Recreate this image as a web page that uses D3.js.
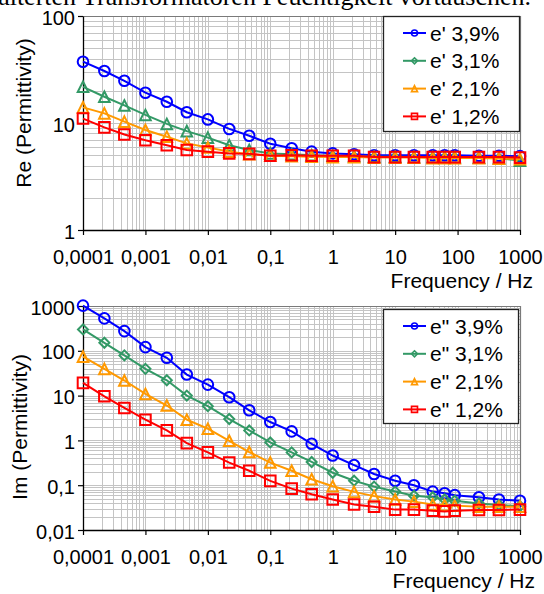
<!DOCTYPE html>
<html>
<head>
<meta charset="utf-8">
<script src="https://cdn.jsdelivr.net/npm/d3@7"></script>
<style>
  html, body { margin: 0; padding: 0; background: #fff; }
  svg { display: block; }
</style>
</head>
<body>
<svg id="chart" width="544" height="594"></svg>
<script>
// Measurement frequencies (Hz)
const frequencies = [0.0001, 0.00022, 0.00046, 0.001, 0.0022, 0.0046, 0.01, 0.022, 0.046,
  0.1, 0.22, 0.46, 1, 2.2, 4.6, 10, 20, 40, 62, 90, 220, 460, 1000];

// Real part of permittivity (e') per moisture content
const ePrime39 = [37.4, 30.6, 24.8, 19.2, 15.8, 12.6, 10.8, 8.8, 7.6, 6.4, 5.8, 5.4, 5.2, 5.1, 5.0, 5.0, 5.0, 5.0, 5.0, 5.0, 4.95, 4.95, 4.9];
const ePrime31 = [21.8, 17.6, 14.6, 11.9, 9.8, 8.4, 7.3, 6.2, 5.6, 5.2, 5.1, 5.0, 4.95, 4.9, 4.85, 4.85, 4.8, 4.8, 4.8, 4.8, 4.75, 4.7, 4.45];
const ePrime21 = [14.0, 12.3, 10.3, 8.6, 7.45, 6.45, 5.9, 5.4, 5.1, 4.95, 4.9, 4.85, 4.8, 4.8, 4.75, 4.75, 4.75, 4.7, 4.7, 4.7, 4.7, 4.65, 4.6];
const ePrime12 = [11.0, 9.1, 7.8, 6.9, 6.2, 5.6, 5.4, 5.2, 5.15, 4.95, 5.0, 4.95, 4.95, 4.95, 4.8, 4.8, 4.8, 4.8, 4.8, 4.8, 4.8, 4.8, 4.75];

// Imaginary part of permittivity (e'') per moisture content
const eDouble39 = [1020, 530, 275, 121, 70, 29.5, 17.6, 9.2, 4.7, 2.57, 1.59, 0.84, 0.46, 0.28, 0.178, 0.126, 0.1, 0.072, 0.066, 0.06, 0.054, 0.048, 0.045];
const eDouble31 = [300, 151, 79, 39.5, 22, 10, 5.8, 3.0, 1.67, 0.9, 0.54, 0.33, 0.19, 0.126, 0.093, 0.072, 0.058, 0.054, 0.048, 0.045, 0.039, 0.036, 0.034];
const eDouble21 = [74, 39.5, 21.7, 10.9, 6.0, 2.9, 1.82, 0.98, 0.55, 0.32, 0.21, 0.136, 0.095, 0.071, 0.057, 0.048, 0.043, 0.037, 0.036, 0.035, 0.033, 0.033, 0.033];
const eDouble12 = [19.2, 9.66, 5.3, 2.9, 1.67, 0.87, 0.54, 0.32, 0.21, 0.125, 0.084, 0.063, 0.048, 0.037, 0.033, 0.0285, 0.0285, 0.027, 0.026, 0.027, 0.028, 0.028, 0.0285];

// Legend labels
const reLabels = ["e' 3,9%", "e' 3,1%", "e' 2,1%", "e' 1,2%"];
const imLabels = ['e" 3,9%', 'e" 3,1%', 'e" 2,1%', 'e" 1,2%'];

// Axis tick values
const xTickValues = [0.0001, 0.001, 0.01, 0.1, 1, 10, 100, 1000];
const reTickValues = [1, 10, 100];
const imTickValues = [0.01, 0.1, 1, 10, 100, 1000];

const headerText = "gealterten Transformatoren Feuchtigkeit vortäuschen.";

// Styling
const seriesColors = ["#0000ff", "#339966", "#ff9900", "#ff0000"];
const FONT = "'Liberation Sans', Arial, sans-serif";

const svg = d3.select("#chart");

// Last line of the body text above the charts, running off the top edge
svg.append("text")
  .attr("x", 531).attr("y", 5)
  .attr("text-anchor", "end")
  .attr("font-family", "'Liberation Serif', 'Times New Roman', serif")
  .attr("font-size", 26)
  .attr("fill", "#000")
  .text(headerText);

const fmt = v => String(v).replace(".", ",");

function markerPath(shape, s) {
  switch (shape) {
    case "square": return `M${-s},${-s}h${2 * s}v${2 * s}h${-2 * s}Z`;
    case "triangle": return `M0,${-s}L${s},${s}L${-s},${s}Z`;
    case "diamond": return `M0,${-s}L${s},0L0,${s}L${-s},0Z`;
    default: return `M${-s},0a${s},${s} 0 1,0 ${2 * s},0a${s},${s} 0 1,0 ${-2 * s},0Z`;
  }
}

function drawPanel(cfg) {
  const g = svg.append("g");
  const x = d3.scaleLog().domain([1e-4, 1e3]).range([cfg.left, cfg.right]);
  const y = d3.scaleLog().domain(cfg.yDomain).range([cfg.bottom, cfg.top]);

  // Grid (major + minor decades)
  const grid = g.append("g").attr("stroke", "#c4c4c4").attr("stroke-width", 1).attr("shape-rendering", "crispEdges");
  x.ticks().forEach(t => {
    const px = Math.round(x(t)) + 0.5;
    grid.append("line").attr("x1", px).attr("x2", px).attr("y1", cfg.top).attr("y2", cfg.bottom);
  });
  y.ticks().forEach(t => {
    const py = Math.round(y(t)) + 0.5;
    grid.append("line").attr("x1", cfg.left).attr("x2", cfg.right).attr("y1", py).attr("y2", py);
  });

  // Plot-area frame (top and right edges)
  g.append("path")
    .attr("d", `M${cfg.left},${cfg.top + 0.5}H${cfg.right + 0.5}V${cfg.bottom}`)
    .attr("fill", "none").attr("stroke", "#7a7a7a").attr("stroke-width", 1.2);

  // Axes
  const xAxis = d3.axisBottom(x).tickValues(xTickValues).tickFormat(fmt).tickSizeInner(5).tickSizeOuter(0);
  const yAxis = d3.axisLeft(y).tickValues(cfg.yTicks).tickFormat(fmt).tickSizeInner(5).tickSizeOuter(0).tickPadding(3);

  const gx = g.append("g").attr("transform", `translate(0,${cfg.bottom})`).call(xAxis);
  const gy = g.append("g").attr("transform", `translate(${cfg.left},0)`).call(yAxis);
  [gx, gy].forEach(a => {
    a.selectAll("path.domain").attr("stroke", "#000").attr("stroke-width", 1.3);
    a.selectAll(".tick line").attr("stroke", "#000").attr("stroke-width", 1.2);
    a.selectAll(".tick text").attr("font-family", FONT).attr("font-size", 20).attr("fill", "#000");
  });
  gx.selectAll(".tick text").attr("y", 34).attr("dy", 0);
  gy.selectAll(".tick text").attr("dy", "0.4em");

  // Axis titles
  g.append("text")
    .attr("x", cfg.xTitleX).attr("y", cfg.bottom + 58)
    .attr("text-anchor", "end")
    .attr("font-family", FONT).attr("font-size", 21)
    .text("Frequency / Hz");
  g.append("text")
    .attr("transform", `translate(${cfg.yTitleX},${cfg.yTitleY}) rotate(-90)`)
    .attr("text-anchor", "middle")
    .attr("font-family", FONT).attr("font-size", 21)
    .text(cfg.yTitle);

  // Series
  const line = d3.line().x(d => x(d[0])).y(d => y(d[1]));
  cfg.series.forEach((vals, i) => {
    const pts = frequencies.map((f, k) => [f, vals[k]]);
    const sg = g.append("g");
    sg.append("path").attr("d", line(pts))
      .attr("fill", "none").attr("stroke", seriesColors[i]).attr("stroke-width", 2);
    sg.selectAll("path.m").data(pts).join("path")
      .attr("class", "m")
      .attr("transform", d => `translate(${x(d[0])},${y(d[1])})`)
      .attr("d", markerPath(cfg.plotShapes[i], cfg.plotShapes[i] === "diamond" ? 5 : 5.3))
      .attr("fill", "none").attr("stroke", seriesColors[i]).attr("stroke-width", 2);
  });

  // Legend
  const lg = g.append("g");
  lg.append("rect")
    .attr("x", cfg.legend.x + 0.5).attr("y", cfg.legend.y + 0.5)
    .attr("width", cfg.legend.w).attr("height", cfg.legend.h)
    .attr("fill", "#fff").attr("stroke", "#222").attr("stroke-width", 1.3);
  cfg.labels.forEach((lab, i) => {
    const ry = cfg.legend.y + 17 + i * 27.8;
    lg.append("line")
      .attr("x1", cfg.legend.x + 20).attr("x2", cfg.legend.x + 43)
      .attr("y1", ry).attr("y2", ry)
      .attr("stroke", seriesColors[i]).attr("stroke-width", 2);
    lg.append("path")
      .attr("transform", `translate(${cfg.legend.x + 31.5},${ry})`)
      .attr("d", markerPath(cfg.legendShapes[i], 3))
      .attr("fill", "none").attr("stroke", seriesColors[i]).attr("stroke-width", 1.6);
    lg.append("text")
      .attr("x", cfg.legend.x + 47).attr("y", ry + 7.5)
      .attr("font-family", FONT).attr("font-size", 21)
      .text(lab);
  });
}

drawPanel({
  left: 83, right: 520, top: 16, bottom: 230,
  yDomain: [1, 100], yTicks: reTickValues,
  yTitle: "Re (Permittivity)", yTitleX: 31, yTitleY: 113,
  xTitleX: 533,
  series: [ePrime39, ePrime31, ePrime21, ePrime12],
  plotShapes: ["circle", "triangle", "triangle", "square"],
  legendShapes: ["circle", "diamond", "triangle", "square"],
  labels: reLabels,
  legend: { x: 383, y: 16, w: 136, h: 115 }
});

drawPanel({
  left: 83, right: 520, top: 306, bottom: 530,
  yDomain: [0.01, 1000], yTicks: imTickValues,
  yTitle: "Im (Permittivity)", yTitleX: 27, yTitleY: 427,
  xTitleX: 535,
  series: [eDouble39, eDouble31, eDouble21, eDouble12],
  plotShapes: ["circle", "diamond", "triangle", "square"],
  legendShapes: ["circle", "diamond", "triangle", "square"],
  labels: imLabels,
  legend: { x: 383, y: 309, w: 135, h: 114 }
});
</script>
</body>
</html>
